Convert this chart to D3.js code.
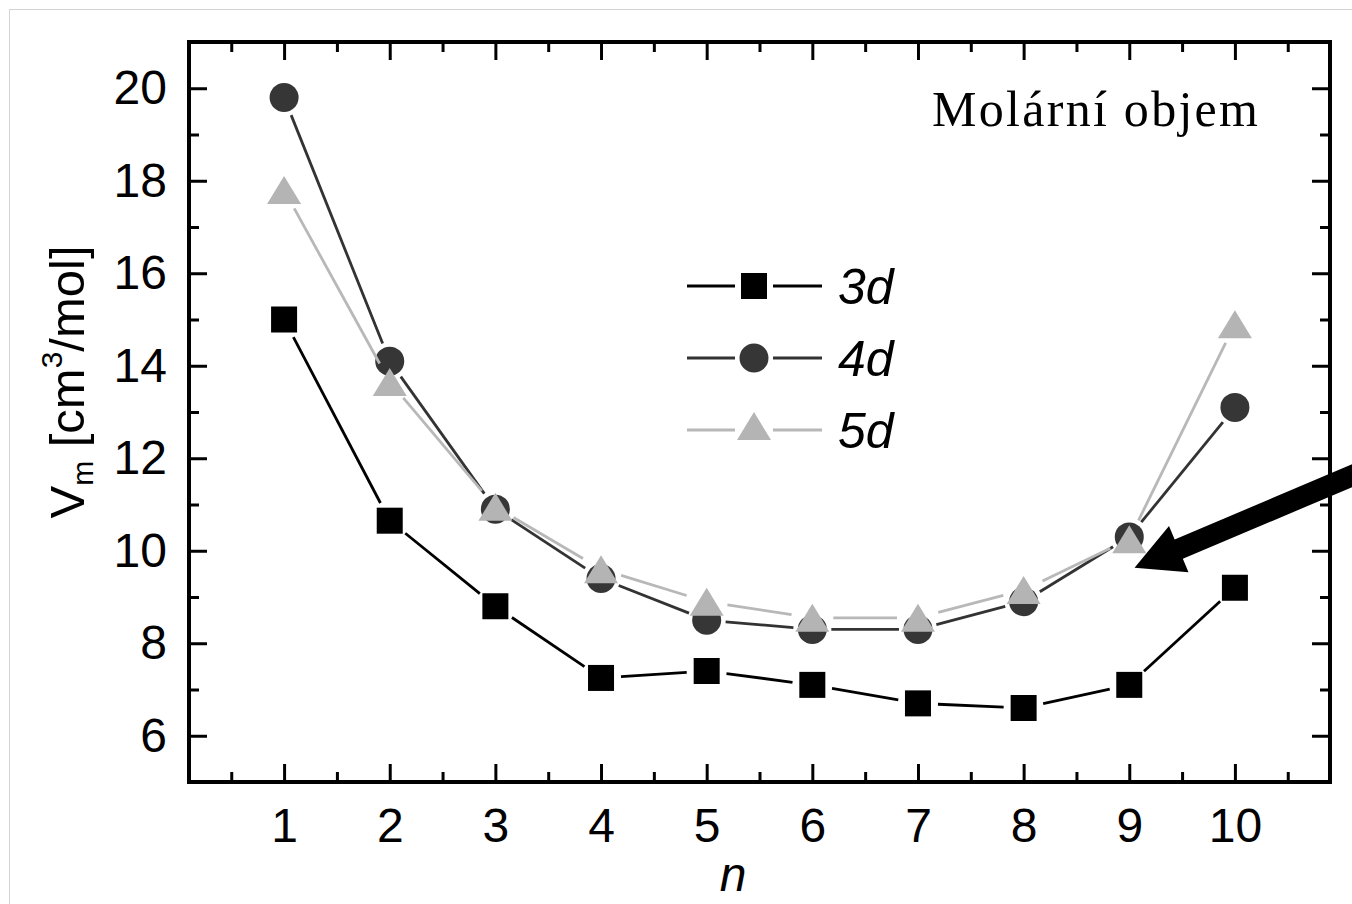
<!DOCTYPE html>
<html><head><meta charset="utf-8">
<script src="https://cdn.jsdelivr.net/npm/d3@7"></script>
<style>body{margin:0;background:#fff}svg{display:block}</style>
</head><body>
<svg id="chart" width="1352" height="904"></svg>
<script>
// ---- data ----
const nValues = [1, 2, 3, 4, 5, 6, 7, 8, 9, 10];
const v3d = [15.0, 10.65, 8.8, 7.25, 7.4, 7.1, 6.7, 6.6, 7.1, 9.2];
const v4d = [19.8, 14.1, 10.9, 9.4, 8.5, 8.3, 8.3, 8.9, 10.3, 13.1];
const v5d = [17.8, 13.65, 10.95, 9.6, 8.9, 8.55, 8.55, 9.15, 10.25, 14.9];
const seriesNames = ["3d", "4d", "5d"];
const xTickValues = [1, 2, 3, 4, 5, 6, 7, 8, 9, 10];
const xMinorValues = [0.5, 1.5, 2.5, 3.5, 4.5, 5.5, 6.5, 7.5, 8.5, 9.5, 10.5];
const yTickValues = [6, 8, 10, 12, 14, 16, 18, 20];
const yMinorValues = [7, 9, 11, 13, 15, 17, 19];
const titleText = "Molární objem";
const arrowTail = [11.2, 11.71];
const arrowTip = [9.05, 9.63];

// ---- layout ----
const svg = d3.select("#chart");
const L = 189, R = 1330, T = 42, B = 782;
const x = d3.scaleLinear().domain([0.1, 10.9]).range([L, R]);
const y = d3.scaleLinear().domain([5, 21]).range([B, T]);
const sans = "'Liberation Sans', Arial, sans-serif";

// outer light frame
svg.append("rect").attr("x", 9.5).attr("y", 9.5).attr("width", 1400).attr("height", 1000)
  .attr("fill", "none").attr("stroke", "#d4d4d4").attr("stroke-width", 1);

const styles = {
  "3d": {color: "#000000", fill: "#000000", shape: "square", gap: 20, values: v3d},
  "4d": {color: "#333333", fill: "#363636", shape: "circle", gap: 19, values: v4d},
  "5d": {color: "#b8b8b8", fill: "#b4b4b4", shape: "triangle", gap: 21, values: v5d}
};

function drawMarker(g, shape, cx, cy, fill) {
  if (shape === "square") {
    g.append("rect").attr("x", cx - 13).attr("y", cy - 13).attr("width", 26).attr("height", 26).attr("fill", fill);
  } else if (shape === "circle") {
    g.append("circle").attr("cx", cx).attr("cy", cy).attr("r", 14.5).attr("fill", fill);
  } else {
    g.append("path").attr("d", `M${cx},${cy - 14}L${cx + 17},${cy + 14}L${cx - 17},${cy + 14}Z`).attr("fill", fill);
  }
}

// ---- series ----
seriesNames.forEach(name => {
  const s = styles[name];
  const g = svg.append("g");
  const pts = nValues.map((n, i) => [x(n), y(s.values[i])]);
  for (let i = 0; i < pts.length - 1; i++) {
    const [x1, y1] = pts[i], [x2, y2] = pts[i + 1];
    const d = Math.hypot(x2 - x1, y2 - y1);
    if (d <= 2 * s.gap) continue;
    const ux = (x2 - x1) / d, uy = (y2 - y1) / d;
    g.append("line")
      .attr("x1", x1 + ux * s.gap).attr("y1", y1 + uy * s.gap)
      .attr("x2", x2 - ux * s.gap).attr("y2", y2 - uy * s.gap)
      .attr("stroke", s.color).attr("stroke-width", 2.8);
  }
  pts.forEach(p => drawMarker(g, s.shape, p[0], p[1], s.fill));
});

// ---- axes ----
function styleAxis(g) {
  g.select(".domain").remove();
  g.selectAll(".tick line").attr("stroke", "#000").attr("stroke-width", 3);
  g.selectAll(".tick text").attr("font-family", sans).attr("font-size", 48).attr("fill", "#000");
}
svg.append("g").attr("transform", `translate(0,${B})`)
  .call(d3.axisBottom(x).tickValues(xTickValues).tickSizeInner(-18).tickSizeOuter(0).tickPadding(26).tickFormat(d3.format("d")))
  .call(styleAxis);
svg.append("g").attr("transform", `translate(0,${B})`)
  .call(d3.axisBottom(x).tickValues(xMinorValues).tickSizeInner(-10).tickSizeOuter(0).tickFormat(""))
  .call(styleAxis);
svg.append("g").attr("transform", `translate(0,${T})`)
  .call(d3.axisTop(x).tickValues(xTickValues).tickSizeInner(-18).tickSizeOuter(0).tickFormat(""))
  .call(styleAxis);
svg.append("g").attr("transform", `translate(0,${T})`)
  .call(d3.axisTop(x).tickValues(xMinorValues).tickSizeInner(-10).tickSizeOuter(0).tickFormat(""))
  .call(styleAxis);
svg.append("g").attr("transform", `translate(${L},0)`)
  .call(d3.axisLeft(y).tickValues(yTickValues).tickSizeInner(-18).tickSizeOuter(0).tickPadding(22).tickFormat(d3.format("d")))
  .call(styleAxis);
svg.append("g").attr("transform", `translate(${L},0)`)
  .call(d3.axisLeft(y).tickValues(yMinorValues).tickSizeInner(-10).tickSizeOuter(0).tickFormat(""))
  .call(styleAxis);
svg.append("g").attr("transform", `translate(${R},0)`)
  .call(d3.axisRight(y).tickValues(yTickValues).tickSizeInner(-18).tickSizeOuter(0).tickFormat(""))
  .call(styleAxis);
svg.append("g").attr("transform", `translate(${R},0)`)
  .call(d3.axisRight(y).tickValues(yMinorValues).tickSizeInner(-10).tickSizeOuter(0).tickFormat(""))
  .call(styleAxis);

// frame
svg.append("rect").attr("x", L).attr("y", T).attr("width", R - L).attr("height", B - T)
  .attr("fill", "none").attr("stroke", "#000").attr("stroke-width", 4);

// ---- axis titles ----
svg.append("text").attr("x", 733).attr("y", 891).attr("text-anchor", "middle")
  .attr("font-family", sans).attr("font-size", 48).attr("font-style", "italic").text("n");

const yl = svg.append("text").attr("transform", "translate(84,382) rotate(-90)")
  .attr("text-anchor", "middle").attr("font-family", sans).attr("font-size", 49).attr("fill", "#000");
yl.append("tspan").text("V");
yl.append("tspan").attr("font-size", 30).attr("dy", 9).text("m");
yl.append("tspan").attr("dy", -9).text(" [cm");
yl.append("tspan").attr("font-size", 30).attr("dy", -22).text("3");
yl.append("tspan").attr("dy", 22).text("/mol]");

// ---- title ----
svg.append("text").attr("x", 932).attr("y", 126)
  .attr("font-family", "'Liberation Serif', 'Times New Roman', serif").attr("font-size", 50)
  .attr("textLength", 326).attr("lengthAdjust", "spacing").text(titleText);

// ---- legend ----
const legY = [286, 358, 430];
seriesNames.forEach((name, i) => {
  const s = styles[name];
  const g = svg.append("g");
  g.append("line").attr("x1", 687).attr("x2", 735).attr("y1", legY[i]).attr("y2", legY[i]).attr("stroke", s.color).attr("stroke-width", 2.8);
  g.append("line").attr("x1", 773).attr("x2", 822).attr("y1", legY[i]).attr("y2", legY[i]).attr("stroke", s.color).attr("stroke-width", 2.8);
  drawMarker(g, s.shape, 754, legY[i] - (s.shape === "triangle" ? 4 : 0), s.fill);
  g.append("text").attr("x", 838).attr("y", legY[i] + 18).attr("font-family", sans)
    .attr("font-size", 50).attr("font-style", "italic").text(name);
});

// ---- arrow annotation ----
(function () {
  const tx = x(arrowTail[0]), ty = y(arrowTail[1]);
  const hx = x(arrowTip[0]), hy = y(arrowTip[1]);
  const d = Math.hypot(tx - hx, ty - hy);
  const ux = (tx - hx) / d, uy = (ty - hy) / d; // from tip toward tail
  const nx = -uy, ny = ux;
  const headLen = 48, headW = 25, shaftW = 10.5;
  const bx = hx + ux * headLen, by = hy + uy * headLen;
  const pts = [
    [hx, hy],
    [bx + nx * headW, by + ny * headW],
    [bx + nx * shaftW, by + ny * shaftW],
    [tx + nx * shaftW, ty + ny * shaftW],
    [tx - nx * shaftW, ty - ny * shaftW],
    [bx - nx * shaftW, by - ny * shaftW],
    [bx - nx * headW, by - ny * headW]
  ];
  svg.append("path").attr("d", "M" + pts.map(p => p.join(",")).join("L") + "Z").attr("fill", "#000");
})();
</script>
</body></html>
